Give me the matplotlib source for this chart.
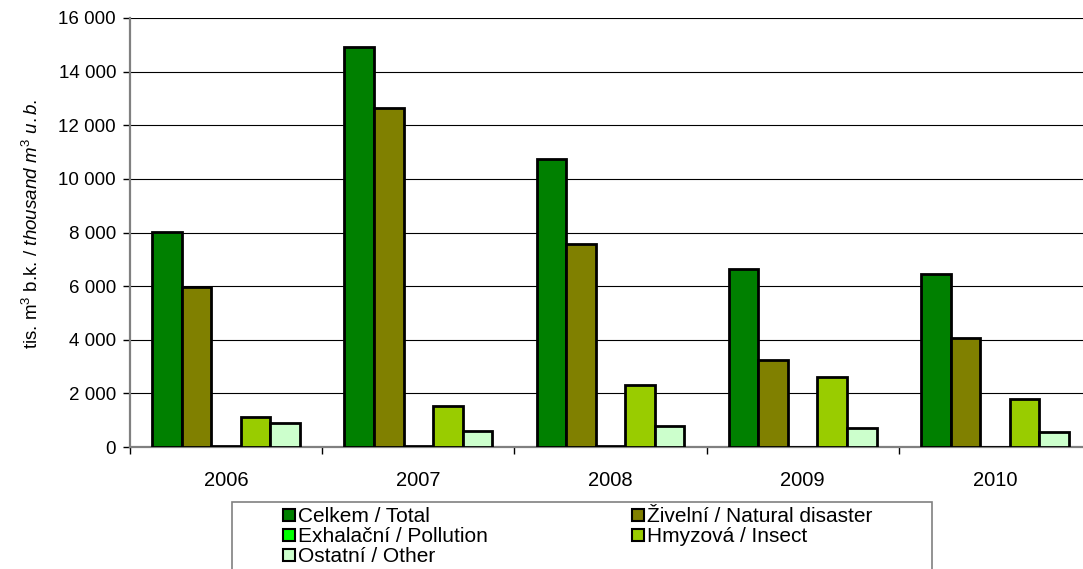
import matplotlib
matplotlib.use("Agg")
import matplotlib.pyplot as plt
from matplotlib.patches import Rectangle
from matplotlib.ticker import FuncFormatter, FixedLocator
import numpy as np

# DATA
years = ["2006", "2007", "2008", "2009", "2010"]
series_names = ["Celkem / Total", "Živelní / Natural disaster", "Exhalační / Pollution",
                "Hmyzová / Insect", "Ostatní / Other"]
total = [8030, 14930, 10750, 6630, 6450]
natural = [5970, 12640, 7570, 3250, 4050]
pollution = [30, 25, 20, 15, 15]
insect = [1110, 1530, 2310, 2620, 1780]
other = [880, 610, 780, 700, 560]
colors = ["#008000", "#808000", "#00ff00", "#99cc00", "#ccffcc"]

YFS = 13.5
XFS = 14.5
LFS = 15

plt.rcParams["font.family"] = ["Liberation Sans", "DejaVu Sans"]
plt.rcParams["mathtext.fontset"] = "custom"
plt.rcParams["mathtext.rm"] = "Liberation Sans"
plt.rcParams["mathtext.it"] = "Liberation Sans:italic"

W, H = 1083, 569
fig = plt.figure(figsize=(W / 100, H / 100), dpi=100)
fig.patch.set_facecolor("white")

# axes placed in pixel units (right edge runs slightly past the image)
left, right, top, bottom = 130, 1091, 18, 447
ax = fig.add_axes([left / W, 1 - bottom / H, (right - left) / W, (bottom - top) / H])

x = np.arange(len(years))
bar_w = 0.154
all_series = [total, natural, pollution, insect, other]
for i, (vals, col) in enumerate(zip(all_series, colors)):
    ax.bar(x + (i - 2) * bar_w, vals, width=bar_w, color=col,
           edgecolor="black", linewidth=2.0, zorder=3)

ax.set_xlim(-0.5, len(years) - 0.5)
ax.set_ylim(0, 16000)
ax.set_yticks(np.arange(0, 16001, 2000))
ax.yaxis.set_major_formatter(FuncFormatter(lambda v, p: f"{int(v):,}".replace(",", " ")))
ax.grid(axis="y", color="black", linewidth=0.8, zorder=0)
ax.set_axisbelow(True)

ax.set_xticks(x)
ax.set_xticklabels(years)
ax.xaxis.set_minor_locator(FixedLocator(np.arange(-0.5, len(years), 1.0)))
ax.tick_params(axis="x", which="major", length=0, pad=17, labelsize=XFS)
ax.tick_params(axis="x", which="minor", length=5, width=1, color="black")
ax.tick_params(axis="y", length=5, width=1, color="black", labelsize=YFS, pad=5)

for s in ["top", "right"]:
    ax.spines[s].set_visible(False)
ax.spines["left"].set_color("#808080")
ax.spines["left"].set_linewidth(1.6)
ax.spines["bottom"].set_color("#808080")
ax.spines["bottom"].set_linewidth(1.6)

ax.set_ylabel(r"tis. m$^3$ b.k. / $\it{thousand\ m^3\ u.b.}$", fontsize=YFS)
ax.yaxis.set_label_coords(-0.092, 0.52)

# legend frame (cut by the bottom edge, as in the original)
lx0, lx1, ly0 = 232, 932, 502
fig.patches.append(Rectangle((lx0 / W, -0.01), (lx1 - lx0) / W, (H - ly0) / H + 0.01,
                             transform=fig.transFigure, facecolor="white",
                             edgecolor="#808080", linewidth=1.2))

# legend entries: (column x of key, row y centre) in pixels
entry_pos = [(283, 515), (632, 515), (283, 535), (632, 535), (283, 555)]
key = 12
for name, col, (kx, ky) in zip(series_names, colors, entry_pos):
    fig.patches.append(Rectangle((kx / W, 1 - (ky + key / 2) / H), key / W, key / H,
                                 transform=fig.transFigure, facecolor=col,
                                 edgecolor="black", linewidth=1.5))
    fig.text((kx + key + 3) / W, 1 - (ky + 1) / H, name, fontsize=LFS,
             ha="left", va="center")

fig.savefig("out.png", dpi=100)
